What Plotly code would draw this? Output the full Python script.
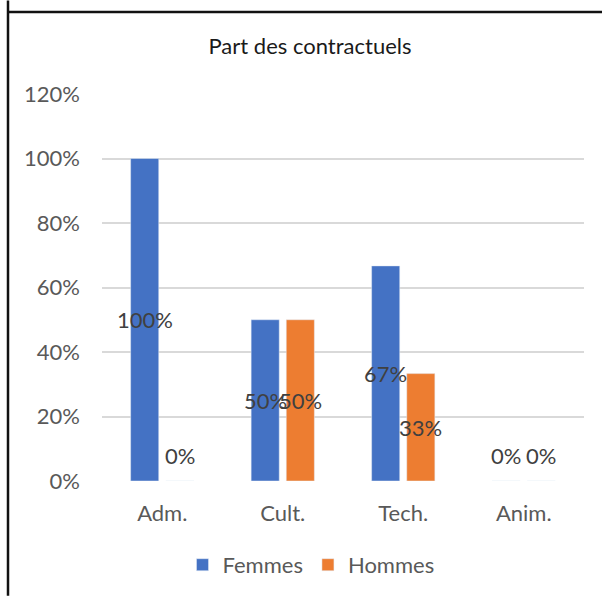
import plotly.graph_objects as go

categories = ["Adm.", "Cult.", "Tech.", "Anim."]
femmes = [1.00, 0.50, 0.667, 0.0]
hommes = [0.0, 0.50, 0.333, 0.0]
femmes_labels = ["100%", "50%", "67%", "0%"]
hommes_labels = ["0%", "50%", "33%", "0%"]
y_ticks = [0, 0.2, 0.4, 0.6, 0.8, 1.0, 1.2]
y_tick_labels = ["0%", "20%", "40%", "60%", "80%", "100%", "120%"]

FONT = "Lato"
FS = 22
TXT = "#595959"
LBL = "#404040"
W, H = 602, 596
L, R, T, B = 102, 18, 93.5, 115
PW, PH = W - L - R, H - T - B
BARGAP = 0.417

fig = go.Figure()
fig.add_trace(go.Bar(name="Femmes", x=categories, y=femmes, marker_color="#4472C4"))
fig.add_trace(go.Bar(name="Hommes", x=categories, y=hommes, marker_color="#ED7D31"))

def px2x(px):
    return (px - L) / PW

def py2y(py):
    return (H - B - py) / PH

annotations = []
slot = (1 - BARGAP) / 2
for series, labels, sign in ((femmes, femmes_labels, -1), (hommes, hommes_labels, 1)):
    for i, (v, t) in enumerate(zip(series, labels)):
        annotations.append(dict(
            x=i + sign * slot / 2, y=v / 2, xref="x", yref="y", text=t,
            showarrow=False, font=dict(family=FONT, size=FS, color=LBL),
            yshift=0 if v > 0 else 26,
        ))

fig.update_layout(
    width=W, height=H,
    margin=dict(l=L, r=R, t=T, b=B, autoexpand=False),
    paper_bgcolor="white", plot_bgcolor="white",
    barmode="group", bargap=BARGAP, bargroupgap=0.2,
    title=dict(text="Part des contractuels", x=310 / W, xref="container", xanchor="center",
               y=1 - 46 / H, yref="container", yanchor="middle",
               font=dict(family=FONT, size=FS, color="#1a1a1a")),
    font=dict(family=FONT, size=FS, color=TXT),
    showlegend=True,
    legend=dict(orientation="h", x=px2x(311), xanchor="center", y=py2y(565), yanchor="middle",
                font=dict(family=FONT, size=FS, color=TXT), itemwidth=30, bgcolor="rgba(0,0,0,0)"),
    annotations=annotations,
    shapes=[
        dict(type="line", xref="paper", yref="paper", x0=px2x(8), x1=px2x(8), y0=py2y(0), y1=py2y(H),
             line=dict(color="#111111", width=2.5)),
        dict(type="line", xref="paper", yref="paper", x0=px2x(8), x1=px2x(W + 2), y0=py2y(11.5), y1=py2y(11.5),
             line=dict(color="#111111", width=2.5)),
    ],
)
fig.update_xaxes(showgrid=False, showline=False, zeroline=False, ticks="",
                 tickfont=dict(family=FONT, size=FS, color=TXT), ticklabelstandoff=17)
fig.update_yaxes(range=[0, 1.2], tickvals=y_ticks, ticktext=y_tick_labels,
                 showgrid=True, gridcolor="#D9D9D9", gridwidth=1.5, zeroline=False, showline=False,
                 ticks="", tickfont=dict(family=FONT, size=FS, color=TXT), ticklabelstandoff=21)

fig.write_html("out.html")
